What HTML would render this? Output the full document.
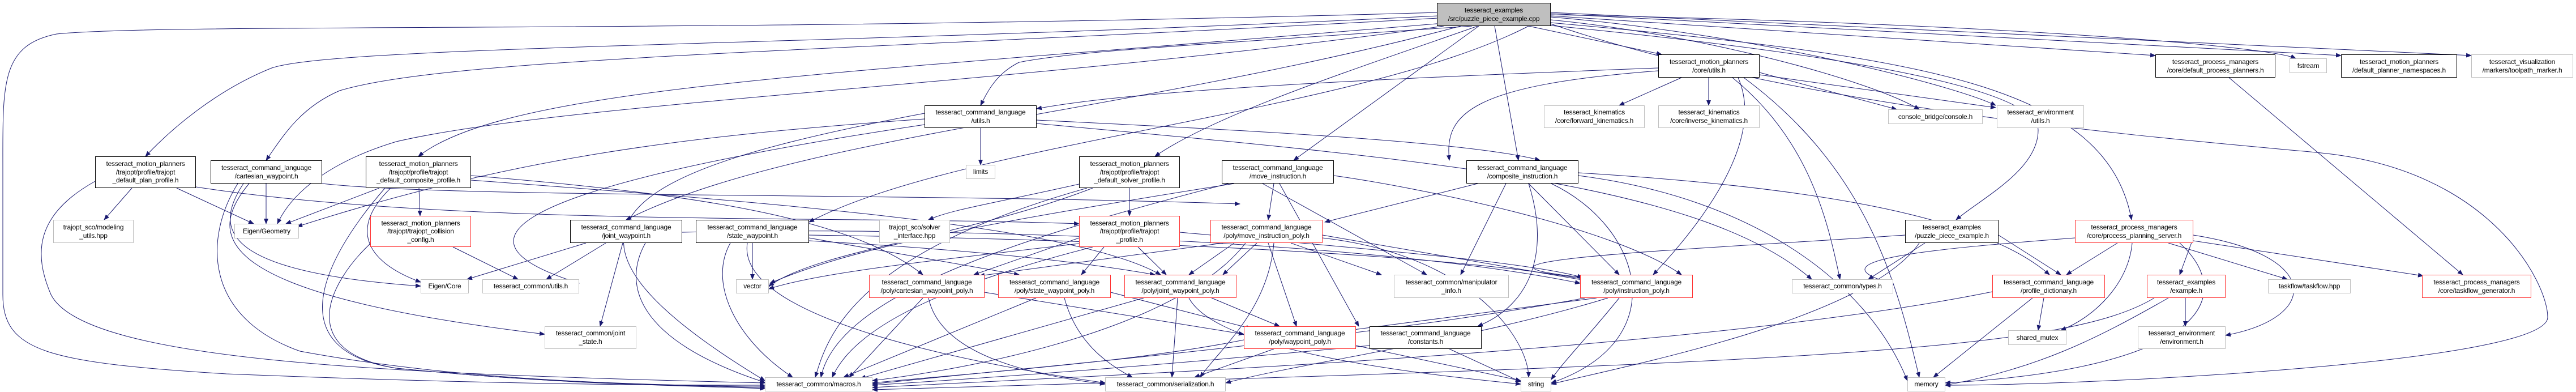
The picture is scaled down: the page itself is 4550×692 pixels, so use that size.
<!DOCTYPE html>
<html><head><meta charset="utf-8"><style>
html,body{margin:0;padding:0;background:#fff;width:4550px;height:692px;overflow:hidden}
svg{position:absolute;left:0;top:0}
.n{position:absolute;box-sizing:border-box;background:#fff;border:1px solid #000;display:flex;align-items:center;justify-content:center;text-align:center;font-family:"Liberation Sans",sans-serif;font-size:12px;line-height:14.6px;color:#000;white-space:nowrap;letter-spacing:-0.2px}
.r{border-color:#ff3030;border-width:1.5px}
.g{border-color:#bfbfbf}
.root{background:#bfbfbf}
</style></head><body>
<svg width="4550" height="692" viewBox="0 0 4550 692">
<defs><marker id="a" markerWidth="10" markerHeight="8" refX="9" refY="4" orient="auto" markerUnits="userSpaceOnUse"><path d="M0,0 L10,4 L0,8 z" fill="#191970"/></marker></defs>
<g fill="none" stroke="#191970" stroke-width="1" marker-end="url(#a)">
<path d="M2540 22 C1200 60 300 40 100 60 C0 80 5 150 5 300 L5 520 C5 620 80 640 400 660 C900 680 1200 680 1351 680"/>
<path d="M2540 28 C1500 80 600 80 480 120 C380 160 300 230 257 276"/>
<path d="M2540 32 C1500 90 800 100 600 160 C530 190 500 240 470 283"/>
<path d="M2560 40 C1500 130 900 150 739 276"/>
<path d="M2550 46 C1800 150 1000 180 700 250 C600 280 520 330 490 395"/>
<path d="M2580 46 C2000 200 1400 240 1106 388"/>
<path d="M2600 46 C2100 80 1900 90 1800 110 C1760 130 1745 160 1732 186"/>
<path d="M2610 46 C2400 120 2150 200 2040 276"/>
<path d="M2612 46 L2285 283"/>
<path d="M2640 46 L2682 283"/>
<path d="M2700 46 L2935 96"/>
<path d="M2739 35 C3000 60 3300 140 3390 193"/>
<path d="M2739 30 C3100 60 3450 150 3525 186"/>
<path d="M2739 28 L3807 98"/>
<path d="M2739 26 C3500 40 4000 80 4055 103"/>
<path d="M2739 24 L4135 98"/>
<path d="M2739 22 L4365 98"/>
<path d="M2739 40 C3400 100 3720 150 3765 388"/>
<path d="M2739 45 C3200 90 3600 150 3600 230 C3600 300 3500 350 3455 388"/>
<path d="M2739 42 C3200 200 3900 250 4100 270 C4400 300 4500 500 4500 560 C4500 640 3700 680 3436 680"/>
<path d="M2700 46 C2400 200 1700 250 1429 392"/>
<!-- A -->
<path d="M233 332 L184 388"/>
<path d="M312 332 L448 395"/>
<path d="M168 320 C60 380 60 450 90 520 C150 640 700 660 1351 676"/>
<path d="M346 330 C800 400 1500 380 1906 395"/>
<!-- B -->
<path d="M470 324 L470 395"/>
<path d="M430 324 C380 400 380 480 743 505"/>
<path d="M440 324 C360 420 380 520 962 590"/>
<path d="M420 324 C360 420 360 560 530 620 C800 670 1100 680 1351 682"/>
<path d="M569 324 C800 350 1600 340 2190 360"/>
<!-- C -->
<path d="M670 332 L505 395"/>
<path d="M740 332 L742 381"/>
<path d="M690 332 C620 400 640 460 743 498"/>
<path d="M680 332 C560 470 500 620 700 650 C1000 680 1200 680 1351 684"/>
<path d="M832 310 C1200 340 1500 380 1630 485"/>
<path d="M832 318 C1400 360 1900 400 2050 485"/>
<!-- F -->
<path d="M800 436 L915 493"/>
<path d="M654 430 C580 500 520 620 700 650 C1000 680 1200 680 1351 686"/>
<!-- J -->
<path d="M1035 429 L825 493"/>
<path d="M1070 429 L965 493"/>
<path d="M1100 429 L1060 576"/>
<path d="M1140 429 C1100 500 1120 600 1351 675"/>
<path d="M1205 410 C1600 400 2400 420 2791 500"/>
<!-- L -->
<path d="M1732 226 L1732 291"/>
<path d="M1633 210 C1200 240 900 280 525 400"/>
<path d="M1633 220 C1100 300 700 400 1023 500"/>
<path d="M1831 212 C2200 230 2600 250 2720 283"/>
<path d="M1831 218 C2500 280 3000 320 3200 493"/>
<path d="M1633 200 C1100 300 900 400 1351 672"/>
<!-- N -->
<path d="M1995 332 L1995 381"/>
<path d="M1906 325 C1750 360 1680 370 1640 388"/>
<path d="M1930 332 C1700 420 1450 440 1358 505"/>
<path d="M1920 332 C1500 450 1460 600 1440 666"/>
<!-- O -->
<path d="M2250 324 L2240 388"/>
<path d="M2230 324 L2520 485"/>
<path d="M2260 324 L2400 576"/>
<path d="M2180 324 C1700 400 1500 440 1360 500"/>
<path d="M2170 324 C1800 420 1480 520 1450 666"/>
<path d="M2356 310 C2500 330 2850 400 2970 485"/>
<!-- P -->
<path d="M1329 429 L1329 493"/>
<path d="M1290 429 C1250 500 1300 600 1400 666"/>
<path d="M1320 429 C1300 560 1700 640 1952 676"/>
<path d="M1429 420 L1800 485"/>
<path d="M1429 425 C1700 440 1900 460 2040 485"/>
<path d="M1429 415 C1800 420 2500 440 2800 493"/>
<!-- S -->
<path d="M1906 420 L1720 485"/>
<path d="M1950 436 L1910 485"/>
<path d="M2010 436 L2060 485"/>
<path d="M1906 430 C1650 460 1450 480 1358 510"/>
<path d="M1930 436 C1600 520 1500 600 1470 666"/>
<path d="M2084 410 C2300 430 2700 460 2795 490"/>
<!-- T -->
<path d="M2160 429 L1730 487"/>
<path d="M2180 429 L2100 485"/>
<path d="M2220 429 L2160 485"/>
<path d="M2240 429 L2290 576"/>
<path d="M2280 429 L2440 485"/>
<path d="M2336 415 L2800 495"/>
<path d="M2250 429 C2240 550 2150 620 2120 666"/>
<path d="M2200 429 C2100 560 1800 640 1541 672"/>
<path d="M2336 420 C2600 450 2700 600 2700 666"/>
<!-- V W X -->
<path d="M1630 526 L1500 666"/>
<path d="M1640 526 C1660 620 1800 660 1952 678"/>
<path d="M1739 516 L2197 590"/>
<path d="M1830 526 L1490 666"/>
<path d="M1880 526 C1900 600 1950 640 2000 666"/>
<path d="M1962 516 L2210 580"/>
<path d="M2020 526 L1520 668"/>
<path d="M2080 526 L2070 666"/>
<path d="M2140 526 L2260 576"/>
<path d="M2100 526 C2150 620 2500 660 2686 678"/>
<!-- Y -->
<path d="M2197 600 C2000 640 1700 660 1541 676"/>
<path d="M2250 616 L2110 666"/>
<path d="M2395 610 L2686 672"/>
<!-- e -->
<path d="M2610 324 L2340 392"/>
<path d="M2660 324 L2580 485"/>
<path d="M2700 324 L2860 485"/>
<path d="M2700 324 C2740 450 2700 540 2610 576"/>
<path d="M2740 324 C2900 400 2960 600 2740 676"/>
<path d="M2788 310 C3100 350 3300 500 3369 672"/>
<path d="M2788 305 C3200 330 3500 380 3620 485"/>
<!-- a -->
<path d="M2970 137 L2860 186"/>
<path d="M3018 137 L3018 186"/>
<path d="M3108 128 L3350 193"/>
<path d="M3108 132 L3525 190"/>
<path d="M3060 137 C3200 250 3230 400 3250 493"/>
<path d="M3070 137 C3120 250 3000 400 2920 485"/>
<path d="M2929 120 C2400 140 2000 160 1831 192"/>
<path d="M3080 137 C3300 300 3350 500 3390 666"/>
<path d="M2929 125 C2600 150 2550 200 2560 283"/>
<!-- g -->
<path d="M2820 526 L2330 590"/>
<path d="M2860 526 C2800 600 2760 640 2740 670"/>
<path d="M2800 526 C2400 600 1800 650 1541 678"/>
<path d="M2840 526 C2600 600 2300 640 2165 676"/>
<!-- j -->
<path d="M2560 616 L2686 674"/>
<path d="M2419 610 C2000 650 1700 670 1541 680"/>
<!-- i -->
<path d="M3400 429 L3300 493"/>
<path d="M3390 429 C3300 560 2900 640 2740 678"/>
<path d="M3365 415 C3000 440 2500 460 2800 490"/>
<path d="M3530 415 L3640 485"/>
<!-- r -->
<path d="M3740 429 L3650 485"/>
<path d="M3874 420 L3850 485"/>
<path d="M3830 429 L4040 493"/>
<path d="M3874 425 L4280 487"/>
<path d="M3874 415 C4100 450 4100 560 3931 592"/>
<path d="M3766 429 C3760 500 3700 560 3640 583"/>
<path d="M3850 429 C3950 520 3900 650 3436 676"/>
<path d="M3665 420 C3400 440 3200 460 3340 500"/>
<!-- n s t -->
<path d="M3937 137 L4350 485"/>
<path d="M3610 526 L3600 583"/>
<path d="M3590 526 L3415 666"/>
<path d="M3519 515 C3000 620 2000 660 1541 684"/>
<path d="M3860 526 L3860 576"/>
<path d="M3830 526 C3700 600 3600 650 3436 680"/>
<path d="M3805 526 C3650 620 3200 640 1541 688"/>
</g>
</svg>
<div class="n root" style="left:2538px;top:5px;width:201px;height:41px">tesseract_examples<br>/src/puzzle_piece_example.cpp</div>
<div class="n" style="left:168px;top:276px;width:178px;height:56px">tesseract_motion_planners<br>/trajopt/profile/trajopt<br>_default_plan_profile.h</div>
<div class="n" style="left:372px;top:283px;width:197px;height:41px">tesseract_command_language<br>/cartesian_waypoint.h</div>
<div class="n" style="left:646px;top:276px;width:186px;height:56px">tesseract_motion_planners<br>/trajopt/profile/trajopt<br>_default_composite_profile.h</div>
<div class="n g" style="left:94px;top:388px;width:142px;height:41px">trajopt_sco/modeling<br>_utils.hpp</div>
<div class="n g" style="left:414px;top:395px;width:114px;height:26px">Eigen/Geometry</div>
<div class="n r" style="left:654px;top:381px;width:178px;height:55px">tesseract_motion_planners<br>/trajopt/trajopt_collision<br>_config.h</div>
<div class="n g" style="left:743px;top:493px;width:85px;height:25px">Eigen/Core</div>
<div class="n g" style="left:852px;top:493px;width:171px;height:25px">tesseract_common/utils.h</div>
<div class="n g" style="left:962px;top:576px;width:162px;height:40px">tesseract_common/joint<br>_state.h</div>
<div class="n" style="left:1007px;top:388px;width:198px;height:41px">tesseract_command_language<br>/joint_waypoint.h</div>
<div class="n g" style="left:1351px;top:666px;width:190px;height:25px">tesseract_common/macros.h</div>
<div class="n" style="left:1633px;top:186px;width:198px;height:40px">tesseract_command_language<br>/utils.h</div>
<div class="n g" style="left:1706px;top:291px;width:52px;height:25px">limits</div>
<div class="n" style="left:1906px;top:276px;width:178px;height:56px">tesseract_motion_planners<br>/trajopt/profile/trajopt<br>_default_solver_profile.h</div>
<div class="n" style="left:2158px;top:283px;width:198px;height:41px">tesseract_command_language<br>/move_instruction.h</div>
<div class="n" style="left:1229px;top:388px;width:200px;height:41px">tesseract_command_language<br>/state_waypoint.h</div>
<div class="n g" style="left:1553px;top:388px;width:125px;height:41px">trajopt_sco/solver<br>_interface.hpp</div>
<div class="n r" style="left:1906px;top:381px;width:178px;height:55px">tesseract_motion_planners<br>/trajopt/profile/trajopt<br>_profile.h</div>
<div class="n r" style="left:2138px;top:388px;width:198px;height:41px">tesseract_command_language<br>/poly/move_instruction_poly.h</div>
<div class="n g" style="left:1300px;top:493px;width:58px;height:25px">vector</div>
<div class="n r" style="left:1535px;top:485px;width:204px;height:41px">tesseract_command_language<br>/poly/cartesian_waypoint_poly.h</div>
<div class="n r" style="left:1763px;top:485px;width:199px;height:41px">tesseract_command_language<br>/poly/state_waypoint_poly.h</div>
<div class="n r" style="left:1986px;top:485px;width:198px;height:41px">tesseract_command_language<br>/poly/joint_waypoint_poly.h</div>
<div class="n r" style="left:2197px;top:576px;width:198px;height:40px">tesseract_command_language<br>/poly/waypoint_poly.h</div>
<div class="n g" style="left:1952px;top:666px;width:213px;height:25px">tesseract_common/serialization.h</div>
<div class="n" style="left:2929px;top:96px;width:179px;height:41px">tesseract_motion_planners<br>/core/utils.h</div>
<div class="n g" style="left:2727px;top:186px;width:178px;height:40px">tesseract_kinematics<br>/core/forward_kinematics.h</div>
<div class="n g" style="left:2929px;top:186px;width:179px;height:40px">tesseract_kinematics<br>/core/inverse_kinematics.h</div>
<div class="n g" style="left:3335px;top:193px;width:167px;height:26px">console_bridge/console.h</div>
<div class="n" style="left:2590px;top:283px;width:198px;height:41px">tesseract_command_language<br>/composite_instruction.h</div>
<div class="n g" style="left:2462px;top:485px;width:203px;height:41px">tesseract_common/manipulator<br>_info.h</div>
<div class="n r" style="left:2791px;top:485px;width:199px;height:41px">tesseract_command_language<br>/poly/instruction_poly.h</div>
<div class="n g" style="left:3165px;top:493px;width:179px;height:25px">tesseract_common/types.h</div>
<div class="n" style="left:3365px;top:388px;width:165px;height:41px">tesseract_examples<br>/puzzle_piece_example.h</div>
<div class="n" style="left:2419px;top:576px;width:198px;height:40px">tesseract_command_language<br>/constants.h</div>
<div class="n g" style="left:2686px;top:666px;width:54px;height:25px">string</div>
<div class="n g" style="left:3369px;top:666px;width:67px;height:25px">memory</div>
<div class="n g" style="left:3527px;top:186px;width:154px;height:40px">tesseract_environment<br>/utils.h</div>
<div class="n" style="left:3807px;top:96px;width:212px;height:41px">tesseract_process_managers<br>/core/default_process_planners.h</div>
<div class="n g" style="left:4044px;top:103px;width:66px;height:26px">fstream</div>
<div class="n" style="left:4135px;top:96px;width:205px;height:41px">tesseract_motion_planners<br>/default_planner_namespaces.h</div>
<div class="n g" style="left:4365px;top:96px;width:180px;height:41px">tesseract_visualization<br>/markers/toolpath_marker.h</div>
<div class="n r" style="left:3665px;top:388px;width:209px;height:41px">tesseract_process_managers<br>/core/process_planning_server.h</div>
<div class="n r" style="left:3519px;top:485px;width:199px;height:41px">tesseract_command_language<br>/profile_dictionary.h</div>
<div class="n r" style="left:3792px;top:485px;width:139px;height:41px">tesseract_examples<br>/example.h</div>
<div class="n g" style="left:4006px;top:493px;width:146px;height:25px">taskflow/taskflow.hpp</div>
<div class="n r" style="left:4278px;top:485px;width:193px;height:41px">tesseract_process_managers<br>/core/taskflow_generator.h</div>
<div class="n g" style="left:3547px;top:583px;width:103px;height:26px">shared_mutex</div>
<div class="n g" style="left:3776px;top:576px;width:155px;height:40px">tesseract_environment<br>/environment.h</div>
</body></html>
